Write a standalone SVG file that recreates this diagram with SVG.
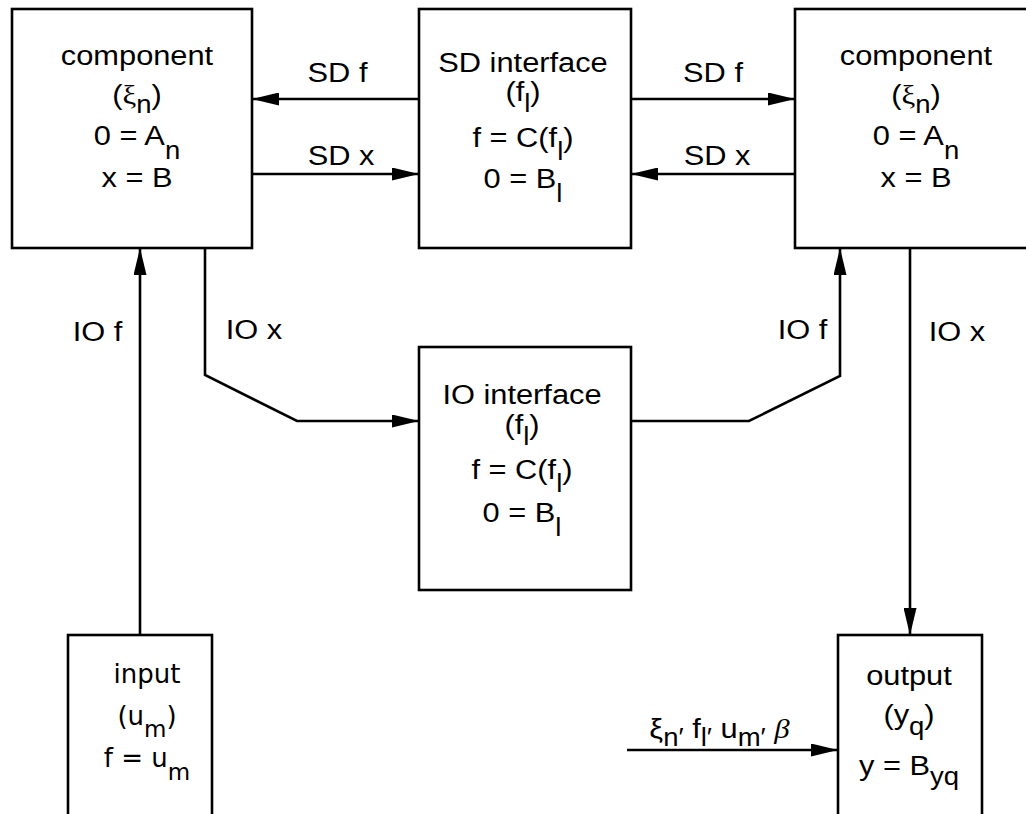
<svg xmlns="http://www.w3.org/2000/svg" width="1026" height="814" viewBox="0 0 1026 814">
<style>
.box{fill:#fff;stroke:#000;stroke-width:2.6}
.ln{fill:none;stroke:#000;stroke-width:2.6}
text{font-family:"Liberation Sans",Arial,Helvetica,sans-serif;font-size:28px;fill:#000;text-anchor:middle}
.sub{font-size:25px}
.gr{font-family:"Liberation Serif","Times New Roman",serif}
.it{font-family:"Liberation Serif","Times New Roman",serif;font-style:italic}
.dv{font-family:"DejaVu Sans",Verdana,sans-serif;font-size:26px}
.dv .sub{font-size:23px}
</style>
<defs>
<marker id="ah" markerUnits="userSpaceOnUse" markerWidth="28" markerHeight="13" refX="27" refY="6.5" orient="auto">
<path d="M0,0 L27,6.5 L0,13 z" fill="#000"/>
</marker>
</defs>
<g id="connectors">
<path class="ln" d="M419,99 L252,99" marker-end="url(#ah)"/>
<path class="ln" d="M252,174 L419,174" marker-end="url(#ah)"/>
<path class="ln" d="M631,99 L795,99" marker-end="url(#ah)"/>
<path class="ln" d="M795,174 L631,174" marker-end="url(#ah)"/>
<path class="ln" d="M140,635 L140,248" marker-end="url(#ah)"/>
<path class="ln" d="M205,248 L205,375 L297,421 L419,421" marker-end="url(#ah)"/>
<path class="ln" d="M631,421 L749,421 L840,376 L840,248" marker-end="url(#ah)"/>
<path class="ln" d="M910,248 L910,635" marker-end="url(#ah)"/>
<path class="ln" d="M627,750 L838,750" marker-end="url(#ah)"/>
<g transform="translate(337.5 0) scale(1.1 1)"><text x="0" y="82">SD f</text></g>
<g transform="translate(341 0) scale(1.1 1)"><text x="0" y="165">SD x</text></g>
<g transform="translate(713 0) scale(1.1 1)"><text x="0" y="82">SD f</text></g>
<g transform="translate(717 0) scale(1.1 1)"><text x="0" y="165">SD x</text></g>
<g transform="translate(97.5 0) scale(1.1 1)"><text x="0" y="341">IO f</text></g>
<g transform="translate(254 0) scale(1.1 1)"><text x="0" y="339">IO x</text></g>
<g transform="translate(802.5 0) scale(1.1 1)"><text x="0" y="339">IO f</text></g>
<g transform="translate(957 0) scale(1.1 1)"><text x="0" y="341">IO x</text></g>
<g transform="translate(719.5 0) scale(1.1 1)"><text x="0" y="738">ξ<tspan class="sub" dy="8">n′</tspan><tspan dy="-8"> f</tspan><tspan class="sub" dy="8">l′</tspan><tspan dy="-8"> u</tspan><tspan class="sub" dy="8">m′</tspan><tspan dy="-8"> </tspan><tspan class="it">β</tspan></text></g>
</g>
<g id="component-left">
<rect class="box" x="12" y="9" width="240" height="239"/>
<g transform="translate(137 0) scale(1.1 1)">
<text x="0" y="65">component</text>
<text x="0" y="104">(<tspan class="gr">ξ</tspan><tspan class="sub" dy="9">n</tspan><tspan dy="-9">)</tspan></text>
<text x="0" y="145">0 = A<tspan class="sub" dy="14">n</tspan></text>
<text x="0" y="187">x = B</text>
</g>
</g>
<g id="sd-interface">
<rect class="box" x="419" y="9" width="212" height="239"/>
<g transform="translate(523 0) scale(1.1 1)">
<text x="0" y="72">SD interface</text>
<text x="0" y="101">(f<tspan class="sub" dy="11">l</tspan><tspan dy="-11">)</tspan></text>
<text x="0" y="147">f = C(f<tspan class="sub" dy="13">l</tspan><tspan dy="-13">)</tspan></text>
<text x="0" y="188">0 = B<tspan class="sub" dy="14">l</tspan></text>
</g>
</g>
<g id="component-right">
<rect class="box" x="795" y="9" width="245" height="239"/>
<g transform="translate(916 0) scale(1.1 1)">
<text x="0" y="65">component</text>
<text x="0" y="104">(<tspan class="gr">ξ</tspan><tspan class="sub" dy="9">n</tspan><tspan dy="-9">)</tspan></text>
<text x="0" y="145">0 = A<tspan class="sub" dy="14">n</tspan></text>
<text x="0" y="187">x = B</text>
</g>
</g>
<g id="io-interface">
<rect class="box" x="419" y="347" width="212" height="243"/>
<g transform="translate(522 0) scale(1.1 1)">
<text x="0" y="404">IO interface</text>
<text x="0" y="434">(f<tspan class="sub" dy="11">l</tspan><tspan dy="-11">)</tspan></text>
<text x="0" y="479">f = C(f<tspan class="sub" dy="13">l</tspan><tspan dy="-13">)</tspan></text>
<text x="0" y="522">0 = B<tspan class="sub" dy="14">l</tspan></text>
</g>
</g>
<g id="input">
<rect class="box" x="68" y="635" width="144" height="200"/>
<g class="dv">
<text class="dv" x="147" y="683">input</text>
<text class="dv" x="147" y="725">(u<tspan class="sub" dy="12">m</tspan><tspan dy="-12">)</tspan></text>
<text class="dv" x="147" y="767">f = u<tspan class="sub" dy="13">m</tspan></text>
</g>
</g>
<g id="output">
<rect class="box" x="838" y="635" width="144" height="200"/>
<g transform="translate(909 0) scale(1.1 1)">
<text x="0" y="685">output</text>
<text x="0" y="724">(y<tspan class="sub" dy="11">q</tspan><tspan dy="-11">)</tspan></text>
<text x="0" y="775">y = B<tspan class="sub" dy="10">yq</tspan></text>
</g>
</g>
</svg>
